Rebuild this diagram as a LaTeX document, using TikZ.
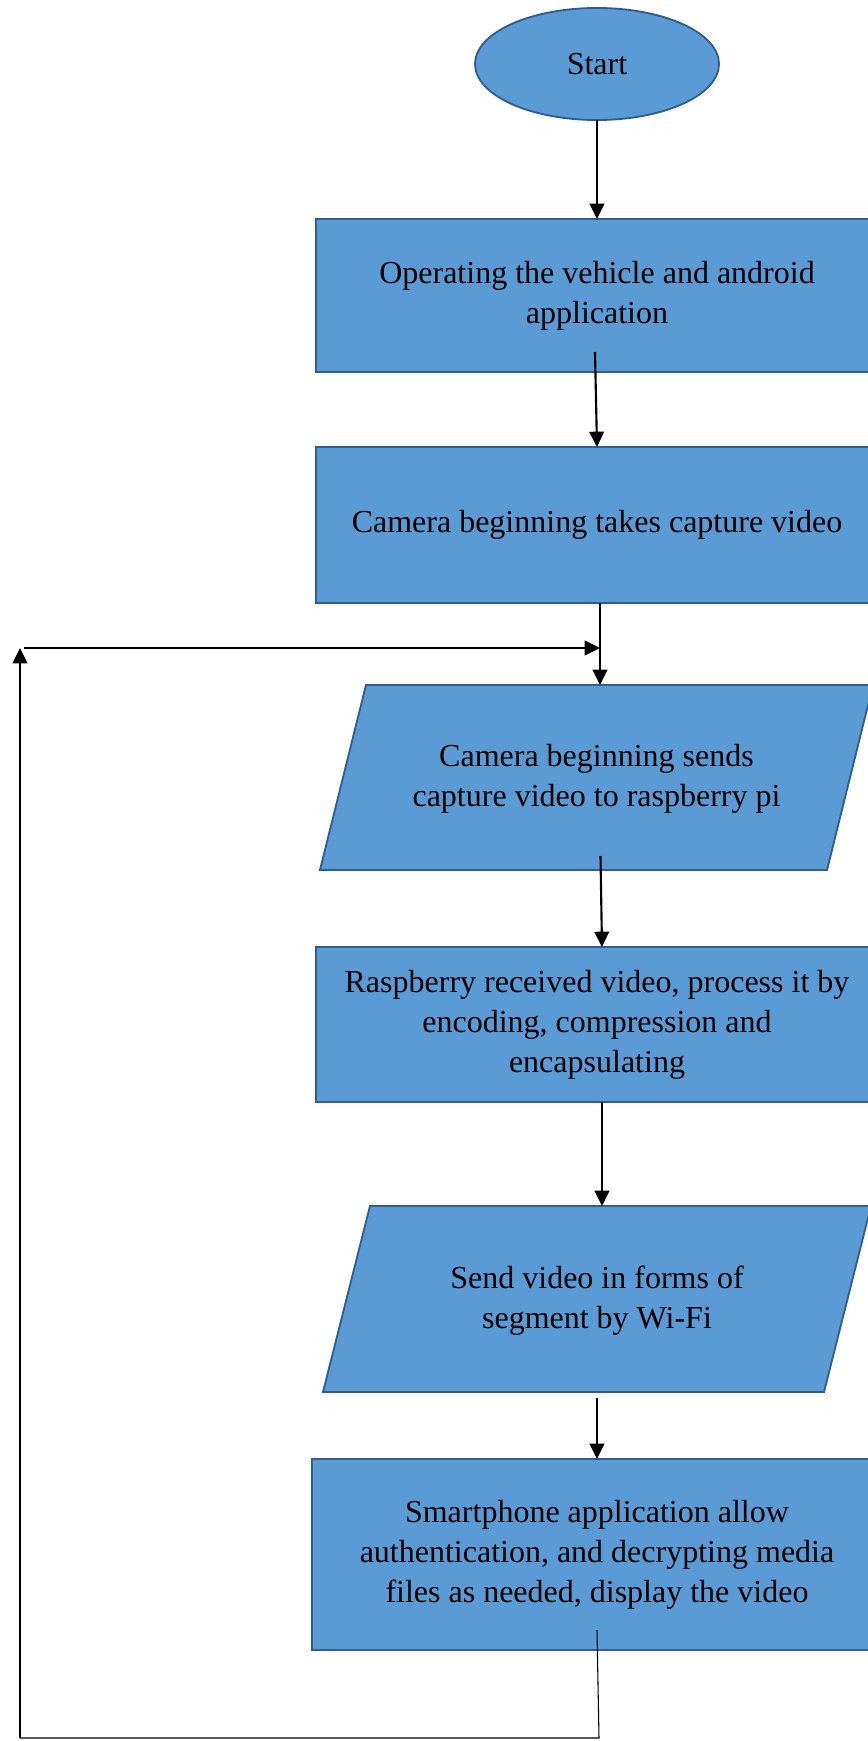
\documentclass[tikz,border=0pt]{standalone}
\usepackage{fontspec}
\setmainfont{Liberation Serif}
\usetikzlibrary{arrows.meta,shapes.geometric}
\definecolor{boxfill}{HTML}{5B9BD5}
\definecolor{boxline}{HTML}{2F5F8F}
\tikzset{
  base/.style={fill=boxfill,draw=boxline,line width=1.4pt,inner sep=0pt,outer sep=0pt,align=center,font=\fontsize{24}{30}\selectfont},
  procbox/.style={base,rectangle,minimum width=421.5pt},
  startnode/.style={base,ellipse,minimum width=183pt,minimum height=84pt},
  iobox/.style={rectangle,inner sep=0pt,outer sep=0pt,align=center,font=\fontsize{24}{30}\selectfont},
  para/.style={fill=boxfill,draw=boxline,line width=1.4pt},
  arr/.style={line width=1.6pt,-{Triangle[length=11.5pt,width=11pt]}},
  thinline/.style={line width=0.8pt}
}
\begin{document}
\begin{tikzpicture}[x=0.75pt,y=-0.75pt]
\useasboundingbox (0,0) rectangle (867,1741);
\fill[white] (0,0) rectangle (867,1741);
% nodes
\node[startnode] (start) at (597,64) {Start};
\node[procbox,minimum height=114.75pt] (box1) at (597,295.5) {Operating the vehicle and android\\application};
\node[procbox,minimum height=117pt] (box2) at (597,525) {Camera beginning takes capture video};
% parallelogram 1
\node[iobox,minimum width=414.75pt,minimum height=138.75pt] (p1) at (596.5,777.5) {};
\draw[para] ([xshift=34.5pt]p1.north west) -- (p1.north east) -- ([xshift=-34.5pt]p1.south east) -- (p1.south west) -- cycle;
\node[iobox] at ([yshift=-1pt]p1.center) {Camera beginning sends\\capture video to raspberry pi};
\node[procbox,minimum height=116.25pt] (box3) at (597,1024.5) {Raspberry received video, process it by\\encoding, compression and\\encapsulating};
% parallelogram 2
\node[iobox,minimum width=411pt,minimum height=139.5pt] (p2) at (597,1299) {};
\draw[para] ([xshift=35.25pt]p2.north west) -- (p2.north east) -- ([xshift=-35.25pt]p2.south east) -- (p2.south west) -- cycle;
\node[iobox] at ([yshift=-1pt]p2.center) {Send video in forms of\\segment by Wi-Fi};
\node[procbox,minimum width=427.5pt,minimum height=143.25pt] (box4) at (597,1554.5) {Smartphone application allow\\authentication, and decrypting media\\files as needed, display the video};
% coordinates for the loop
\coordinate (join) at (600,648);
\coordinate (tl) at (20,648);
\coordinate (tl2) at (24,648);
\coordinate (bl) at (20,1738);
\coordinate (bot) at (599,1738);
% connectors
\draw[arr] (start.south) -- (box1.north);
\draw[arr] ([xshift=-1.5pt,yshift=15pt]box1.south) -- (box2.north);
\draw[arr] (box2.south -| join) -- (p1.north -| join);
\draw[arr] ([xshift=3pt,yshift=10.5pt]p1.south) -- ([xshift=3.75pt]box3.north);
\draw[arr] ([xshift=3.75pt]box3.south) -- ([xshift=3.75pt]p2.north);
\draw[arr] ([yshift=-4.5pt]p2.south) -- (box4.north);
\draw[thinline] ([yshift=15pt]box4.south) -- (bot) -- (bl);
\draw[arr] (bl) -- (tl);
\draw[arr] (tl2) -- (join);
\end{tikzpicture}
\end{document}
